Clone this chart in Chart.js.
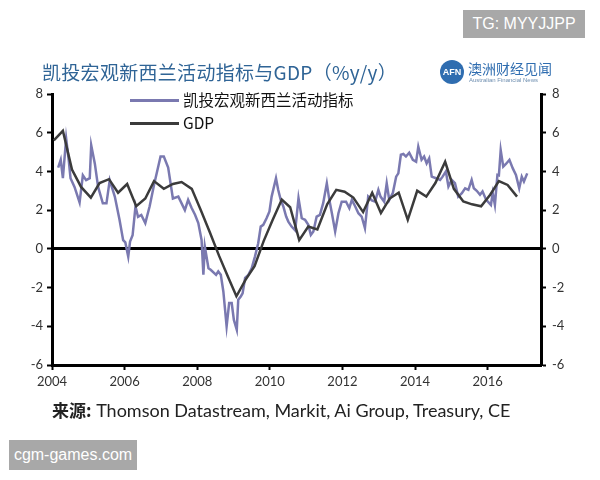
<!DOCTYPE html>
<html>
<head>
<meta charset="utf-8">
<script src="https://cdn.jsdelivr.net/npm/chart.js@4.4.1/dist/chart.umd.min.js"></script>
<style>
    body { margin: 0; background: #fff; }
    #wrap { position: relative; width: 600px; height: 480px; overflow: hidden; font-family: 'Noto Sans CJK SC', sans-serif; }
    #chartBox { position: absolute; left: 0; top: 0; width: 600px; height: 480px; }
    .title { position: absolute; left: 42px; top: 58px; font-size: 19px; color: #2f6496; letter-spacing: 0.3px; white-space: nowrap; }
    .legend { position: absolute; left: 130px; top: 89px; font-size: 15.5px; color: #111; }
    .legend div { height: 23px; line-height: 21px; white-space: nowrap; }
    .legend span.swatch { display: inline-block; width: 49px; height: 0; vertical-align: middle; margin-right: 4px; position: relative; top: -1px; }
    .source { position: absolute; left: 52px; top: 397px; font-size: 18px; color: #222; white-space: nowrap; font-family: 'Lato', 'Noto Sans CJK SC', sans-serif; }
    .source b { font-family: 'Noto Sans CJK SC', sans-serif; font-size: 17px; }
    .mark { position: absolute; background: #a8a8a8; color: #fff; font-family: 'Liberation Sans', sans-serif; font-size: 16px; text-align: center; }
    .logo { position: absolute; left: 440px; top: 58px; }
    .logo .dot { position: absolute; left: 0; top: 2px; width: 24px; height: 24px; border-radius: 12px; background: #2f6db0; color: #fff; font: bold 9px 'Liberation Sans', sans-serif; line-height: 24px; text-align: center; }
    .logo .cn { position: absolute; left: 28px; top: 0; font-size: 14px; color: #2f6db0; white-space: nowrap; }
    .logo .en { position: absolute; left: 29px; top: 19px; font: 6px 'Liberation Sans', sans-serif; color: #6f8fb0; white-space: nowrap; }
</style>
</head>
<body>
<div id="wrap">
    <div id="chartBox"><canvas id="nzChart"></canvas></div>
    <div class="title">凯投宏观新西兰活动指标与GDP（%y/y）</div>
    <div class="logo"><div class="dot">AFN</div><div class="cn">澳洲财经见闻</div><div class="en">Australian Financial News</div></div>
    <div class="legend" id="legend"></div>
    <div class="source"><b>来源:</b> Thomson Datastream, Markit, Ai Group, Treasury, CE</div>
    <div class="mark" style="left:463px; top:10px; width:122px; height:28px; line-height:28px;">TG: MYYJJPP</div>
    <div class="mark" style="left:9px; top:440px; width:128px; height:30px; line-height:30px;">cgm-games.com</div>
</div>
<script>
// series names
const activityName = '凯投宏观新西兰活动指标';
const gdpName = 'GDP';

// Capital Economics NZ activity proxy (monthly-ish, decimal years)
const activityYears = [
    2004.17, 2004.24, 2004.30, 2004.39, 2004.46, 2004.51, 2004.62, 2004.76, 2004.85, 2004.94,
    2005.04, 2005.08, 2005.18, 2005.27, 2005.40, 2005.50, 2005.59, 2005.73, 2005.86, 2005.96,
    2006.02, 2006.10, 2006.15, 2006.22, 2006.30, 2006.37, 2006.46, 2006.57, 2006.69, 2006.81,
    2006.99, 2007.08, 2007.20, 2007.33, 2007.48, 2007.66, 2007.75, 2007.85, 2007.94, 2008.03,
    2008.12, 2008.17, 2008.21, 2008.31, 2008.37, 2008.52, 2008.58, 2008.65, 2008.72, 2008.81,
    2008.88, 2008.95, 2009.01, 2009.09, 2009.13, 2009.20, 2009.25, 2009.32, 2009.41, 2009.50,
    2009.59, 2009.68, 2009.75, 2009.82, 2009.91, 2009.99, 2010.05, 2010.17, 2010.23, 2010.30,
    2010.37, 2010.45, 2010.51, 2010.60, 2010.70, 2010.79, 2010.88, 2010.97, 2011.06, 2011.13,
    2011.20, 2011.29, 2011.38, 2011.47, 2011.57, 2011.64, 2011.71, 2011.80, 2011.89, 2011.98,
    2012.10, 2012.19, 2012.26, 2012.35, 2012.44, 2012.53, 2012.62, 2012.71, 2012.81, 2012.90,
    2012.99, 2013.05, 2013.15, 2013.22, 2013.29, 2013.39, 2013.48, 2013.54, 2013.61, 2013.68,
    2013.75, 2013.84, 2013.94, 2014.03, 2014.09, 2014.18, 2014.25, 2014.32, 2014.39, 2014.46,
    2014.58, 2014.69, 2014.76, 2014.85, 2014.92, 2015.01, 2015.10, 2015.19, 2015.29, 2015.38,
    2015.47, 2015.56, 2015.62, 2015.70, 2015.79, 2015.86, 2015.96, 2016.09, 2016.14, 2016.20,
    2016.27, 2016.31, 2016.36, 2016.43, 2016.51, 2016.60, 2016.69, 2016.78, 2016.87, 2016.94,
    2017.00, 2017.09
];
const activityValues = [
    4.2, 4.6, 3.65, 5.7, 4.6, 3.65, 3.2, 2.4, 3.8, 3.55,
    3.65, 5.35, 4.4, 3.2, 2.35, 2.35, 3.55, 2.7, 1.5, 0.45,
    0.33, -0.4, 0.38, 0.7, 2.2, 1.65, 1.75, 1.33, 2.2, 3.3,
    4.77, 4.77, 4.2, 2.6, 2.7, 2.0, 2.53, 2.1, 1.76, 1.33,
    0.46, -1.34, 0.12, -1.0, -1.08, -1.34, -1.17, -1.34, -2.2, -4.0,
    -2.8, -2.8, -3.67, -4.18, -2.63, -2.46, -2.3, -1.5, -1.34, -1.0,
    -0.4, 0.29, 1.15, 1.24, 1.58, 1.93, 2.7, 3.65, 3.05, 2.53,
    2.2, 1.67, 1.41, 1.15, 0.95, 2.62, 1.58, 1.5, 1.24, 0.72,
    0.9, 1.67, 1.76, 2.36, 3.39, 2.53, 1.84, 0.9, 1.84, 2.44,
    2.44, 2.1, 2.53, 2.2, 1.84, 1.67, 1.07, 2.7, 2.5, 2.44,
    3.05, 2.7, 2.44, 3.39, 2.53, 2.9, 3.73, 3.9, 4.86, 4.9,
    4.77, 4.97, 4.6, 4.5, 5.28, 4.6, 4.77, 4.42, 4.68, 3.73,
    3.65, 3.56, 3.73, 4.0, 3.22, 3.56, 3.39, 2.7, 2.88, 3.13,
    3.05, 3.56, 3.13, 3.0, 2.79, 2.96, 2.53, 2.27, 2.88, 2.27,
    3.82, 3.8, 5.1, 4.25, 4.4, 4.6, 4.17, 3.82, 3.13, 3.73,
    3.48, 3.9
];

// quarterly GDP growth, % y/y
const gdpYears = [
    2004.05, 2004.30, 2004.55, 2004.80, 2005.07, 2005.31, 2005.57, 2005.82, 2006.07, 2006.32,
    2006.57, 2006.81, 2007.08, 2007.33, 2007.57, 2007.85, 2008.10, 2008.35, 2008.60, 2008.85,
    2009.08, 2009.33, 2009.58, 2009.83, 2010.08, 2010.33, 2010.56, 2010.81, 2011.06, 2011.31,
    2011.58, 2011.83, 2012.06, 2012.30, 2012.57, 2012.82, 2013.06, 2013.30, 2013.55, 2013.80,
    2014.06, 2014.31, 2014.56, 2014.83, 2015.07, 2015.33, 2015.57, 2015.82, 2016.07, 2016.31,
    2016.55, 2016.81
];
const gdpValues = [
    5.6, 6.1, 4.1, 3.2, 2.65, 3.4, 3.6, 2.9, 3.35, 2.2,
    2.6, 3.5, 3.1, 3.35, 3.45, 3.1, 2.0, 0.85, -0.35, -1.45,
    -2.45, -1.6, -0.9, 0.4, 1.5, 2.55, 2.15, 0.45, 1.15, 1.0,
    2.3, 3.05, 2.95, 2.65, 1.9, 2.9, 1.85, 2.6, 2.9, 1.5,
    3.0, 2.7, 3.4, 4.5, 3.1, 2.45, 2.3, 2.2, 2.8, 3.5,
    3.3, 2.7
];

const xTicks = [2004, 2006, 2008, 2010, 2012, 2014, 2016];
const yTicks = [-6, -4, -2, 0, 2, 4, 6, 8];

const activityColor = '#7a79b0';
const gdpColor = '#3b3b3b';

// html legend, purple first like the source chart
const legendEl = document.getElementById('legend');
[[activityName, activityColor], [gdpName, gdpColor]].forEach(([name, color]) => {
    const row = document.createElement('div');
    row.innerHTML = '<span class="swatch" style="border-top:3px solid ' + color + '"></span>' + name;
    legendEl.appendChild(row);
});

const tickFont = { family: 'Lato, "DejaVu Sans", sans-serif', size: 13 };

const ctx = document.getElementById('nzChart').getContext('2d');
new Chart(ctx, {
    type: 'line',
    data: {
        datasets: [{
            label: gdpName,
            data: gdpYears.map((x, i) => ({ x: x, y: gdpValues[i] })),
            borderColor: gdpColor,
            borderWidth: 2.5,
            pointRadius: 0,
            tension: 0,
            order: 0
        }, {
            label: activityName,
            data: activityYears.map((x, i) => ({ x: x, y: activityValues[i] })),
            borderColor: activityColor,
            borderWidth: 2.5,
            pointRadius: 0,
            tension: 0,
            order: 1
        }]
    },
    options: {
        responsive: true,
        maintainAspectRatio: false,
        animation: false,
        layout: { padding: { top: 94, left: 0, right: 0, bottom: 0 } },
        plugins: {
            legend: { display: false },
            tooltip: { enabled: false }
        },
        scales: {
            x: {
                type: 'linear',
                min: 2004,
                max: 2017.47,
                afterBuildTicks: scale => { scale.ticks = xTicks.map(v => ({ value: v })); },
                afterFit: scale => { scale.height = 115; },
                ticks: { color: '#333', font: tickFont, padding: 4, maxRotation: 0, callback: v => String(v) },
                grid: { drawOnChartArea: false, tickColor: '#000', tickWidth: 2, tickLength: 5 },
                border: { color: '#000', width: 3 }
            },
            y: {
                position: 'left',
                min: -6,
                max: 8,
                afterBuildTicks: scale => { scale.ticks = yTicks.map(v => ({ value: v })); },
                afterFit: scale => { scale.width = 52; },
                ticks: { color: '#333', font: tickFont, padding: 4 },
                grid: {
                    color: c => (c.tick && c.tick.value === 0) ? '#000' : 'rgba(0,0,0,0)',
                    lineWidth: 3,
                    tickColor: '#000',
                    tickWidth: 2,
                    tickLength: 5
                },
                border: { color: '#000', width: 3 }
            },
            y2: {
                position: 'right',
                min: -6,
                max: 8,
                afterBuildTicks: scale => { scale.ticks = yTicks.map(v => ({ value: v })); },
                afterFit: scale => { scale.width = 59; },
                ticks: { color: '#333', font: tickFont, padding: 6 },
                grid: { drawOnChartArea: false, tickColor: '#000', tickWidth: 2, tickLength: 5 },
                border: { color: '#000', width: 3 }
            }
        }
    }
});
</script>
</body>
</html>
